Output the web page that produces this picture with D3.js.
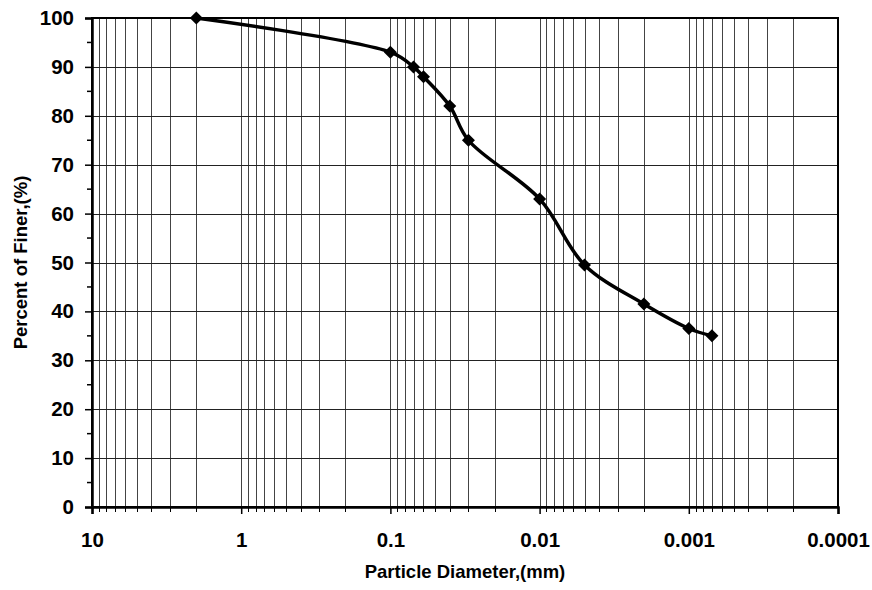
<!DOCTYPE html>
<html>
<head>
<meta charset="utf-8">
<script src="https://cdn.jsdelivr.net/npm/d3@7"></script>
<style>
  body { margin: 0; background: #fff; }
  text { font-family: "Liberation Sans", Arial, sans-serif; font-weight: bold; }
</style>
</head>
<body>
<svg id="chart"></svg>
<script>
// Dimensions
const width = 872;
const height = 590;

const margin = { top: 18, right: 34, bottom: 83, left: 92 };

// Data (diameter in mm, percent finer)
const diameters = [2, 0.1, 0.07, 0.06, 0.04, 0.03, 0.01, 0.005, 0.002, 0.001, 0.0007];
const percentFiner = [100, 93, 90, 88, 82, 75, 63, 49.5, 41.5, 36.5, 35];
const xTickValues = [10, 1, 0.1, 0.01, 0.001, 0.0001];
const xTickLabels = ["10", "1", "0.1", "0.01", "0.001", "0.0001"];
const yTickValues = [0, 10, 20, 30, 40, 50, 60, 70, 80, 90, 100];

const data = diameters.map((d, i) => ({ d: d, p: percentFiner[i] }));

const svg = d3.select("#chart")
    .attr("width", width)
    .attr("height", height);

const x = d3.scaleLog()
    .domain([10, 0.0001])
    .range([margin.left, width - margin.right]);

const y = d3.scaleLinear()
    .domain([0, 100])
    .range([height - margin.bottom, margin.top]);

const plotBottom = height - margin.bottom;
const plotRight = width - margin.right;

// minor values on log axis (1..9 in every decade)
const minorX = [];
[1, 0.1, 0.01, 0.001, 0.0001].forEach(dec => {
    for (let k = 1; k <= 9; k++) minorX.push(dec * k);
});
const isMajor = v => xTickValues.some(t => Math.abs(Math.log10(t) - Math.log10(v)) < 1e-9);

// vertical grid lines
svg.append("g")
    .selectAll("line")
    .data(minorX)
    .join("line")
    .attr("x1", d => Math.round(x(d)) + 0.5)
    .attr("x2", d => Math.round(x(d)) + 0.5)
    .attr("y1", margin.top)
    .attr("y2", plotBottom)
    .attr("stroke", "#444")
    .attr("stroke-width", 1);

// horizontal grid lines
svg.append("g")
    .selectAll("line")
    .data(yTickValues)
    .join("line")
    .attr("x1", margin.left)
    .attr("x2", plotRight)
    .attr("y1", d => Math.round(y(d)) + 0.5)
    .attr("y2", d => Math.round(y(d)) + 0.5)
    .attr("stroke", "#222")
    .attr("stroke-width", 1);

// frame
svg.append("rect")
    .attr("x", margin.left)
    .attr("y", margin.top)
    .attr("width", plotRight - margin.left)
    .attr("height", plotBottom - margin.top)
    .attr("fill", "none")
    .attr("stroke", "#000")
    .attr("stroke-width", 2);

// x axis
const xAxis = svg.append("g")
    .attr("transform", `translate(0,${plotBottom})`)
    .call(d3.axisBottom(x)
        .tickValues(xTickValues)
        .tickFormat((d, i) => xTickLabels[i])
        .tickSize(7)
        .tickPadding(18));
xAxis.select(".domain").attr("stroke-width", 2.5);
xAxis.selectAll("line").attr("stroke-width", 1.5);
xAxis.selectAll("text").style("font-size", "20.5px").attr("fill", "#000");

// x minor ticks
svg.append("g")
    .selectAll("line")
    .data(minorX.filter(v => !isMajor(v)))
    .join("line")
    .attr("x1", d => Math.round(x(d)) + 0.5)
    .attr("x2", d => Math.round(x(d)) + 0.5)
    .attr("y1", plotBottom)
    .attr("y2", plotBottom + 5)
    .attr("stroke", "#000")
    .attr("stroke-width", 1);

// y axis
const yAxis = svg.append("g")
    .attr("transform", `translate(${margin.left},0)`)
    .call(d3.axisLeft(y)
        .tickValues(yTickValues)
        .tickSize(7)
        .tickPadding(11));
yAxis.select(".domain").attr("stroke-width", 2.5);
yAxis.selectAll("line").attr("stroke-width", 1.5);
yAxis.selectAll("text").style("font-size", "20.5px").attr("fill", "#000");

// y minor ticks
svg.append("g")
    .selectAll("line")
    .data(d3.range(5, 100, 10))
    .join("line")
    .attr("x1", margin.left - 5)
    .attr("x2", margin.left)
    .attr("y1", d => y(d))
    .attr("y2", d => y(d))
    .attr("stroke", "#000")
    .attr("stroke-width", 1.5);

// axis titles
svg.append("text")
    .attr("x", (margin.left + plotRight) / 2)
    .attr("y", 578)
    .attr("text-anchor", "middle")
    .style("font-size", "18.5px")
    .text("Particle Diameter,(mm)");

svg.append("text")
    .attr("transform", "rotate(-90)")
    .attr("x", -(margin.top + plotBottom) / 2)
    .attr("y", 27)
    .attr("text-anchor", "middle")
    .style("font-size", "18.5px")
    .text("Percent of Finer,(%)");

// curve
const line = d3.line()
    .x(d => x(d.d))
    .y(d => y(d.p))
    .curve(d3.curveCatmullRom.alpha(0.5));

svg.append("path")
    .datum(data)
    .attr("fill", "none")
    .attr("stroke", "#000")
    .attr("stroke-width", 3.5)
    .attr("d", line);

// diamond markers
svg.selectAll("path.marker")
    .data(data)
    .join("path")
    .attr("class", "marker")
    .attr("transform", d => `translate(${x(d.d)},${y(d.p)})`)
    .attr("d", "M0,-6.5L6.5,0L0,6.5L-6.5,0Z")
    .attr("fill", "#000");
</script>
</body>
</html>
